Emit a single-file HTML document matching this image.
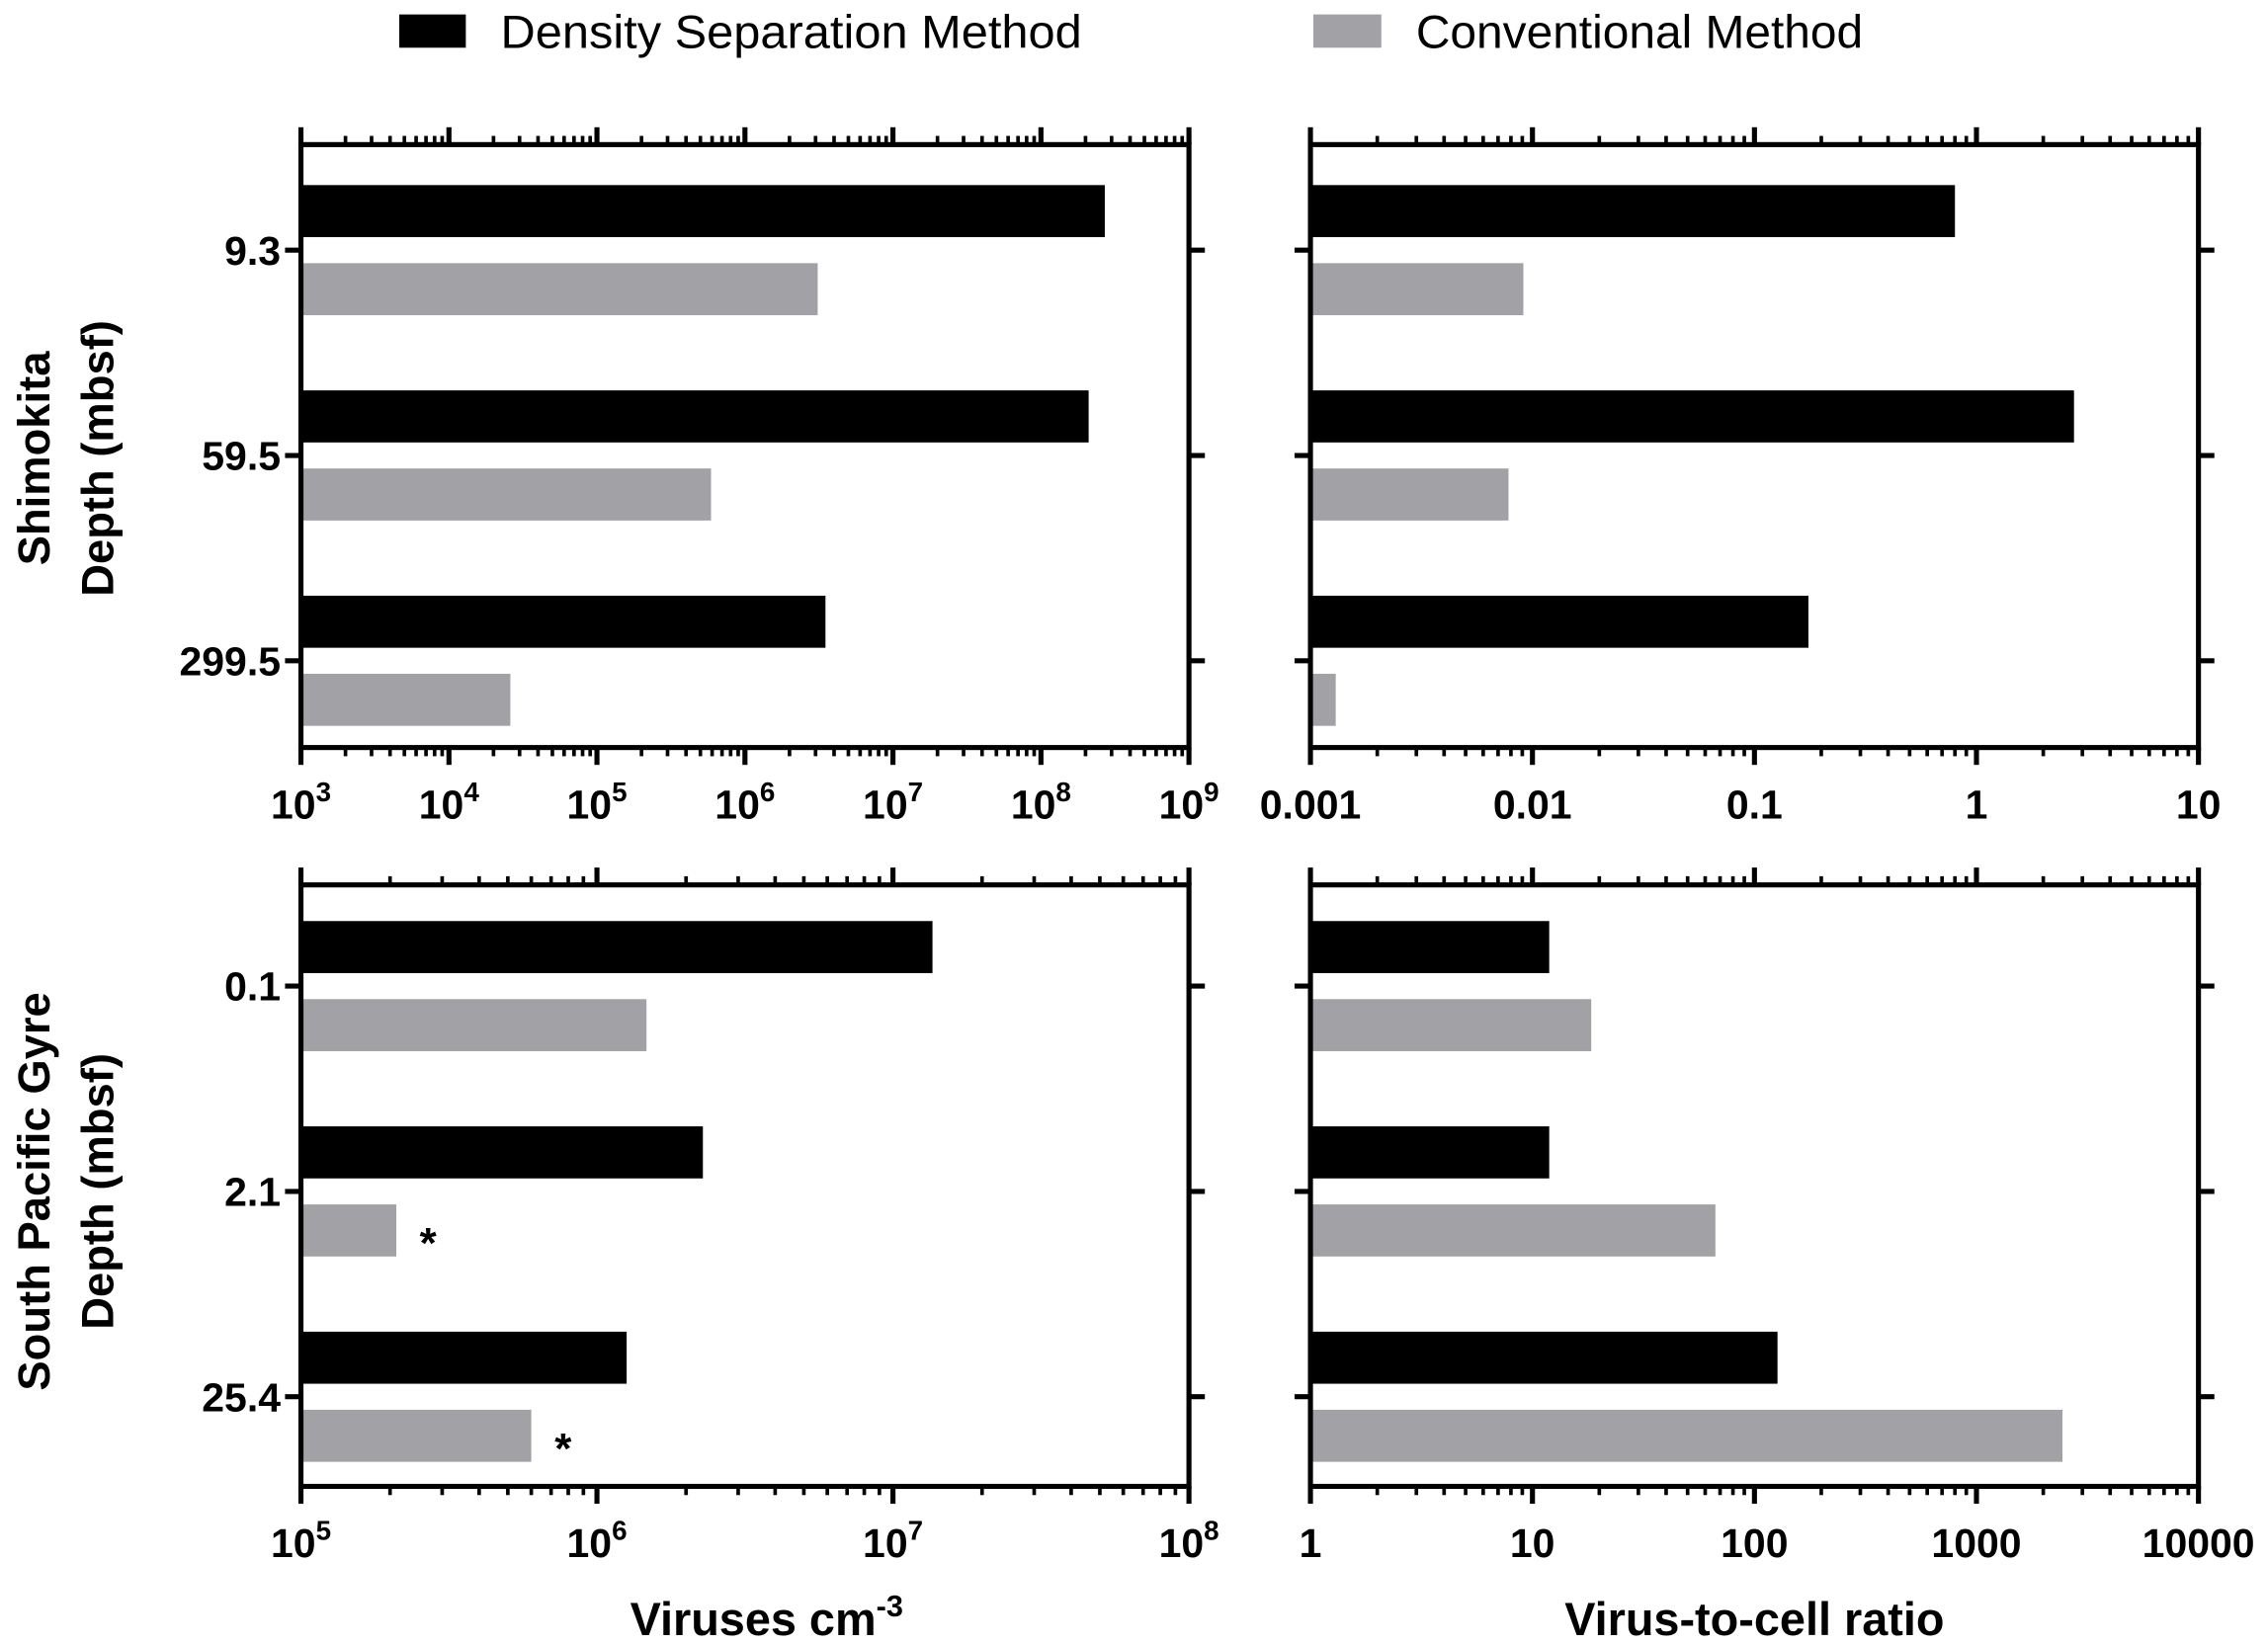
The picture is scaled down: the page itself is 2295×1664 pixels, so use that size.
<!DOCTYPE html>
<html><head><meta charset="utf-8"><style>
html,body{margin:0;padding:0;background:#fff}
svg{display:block}
text{font-family:"Liberation Sans",Arial,sans-serif}
</style></head><body>
<svg id="fig" width="2295" height="1664" viewBox="0 0 1568 1137" xmlns="http://www.w3.org/2000/svg">
<g>
<rect x="276" y="10" width="46" height="23" fill="#000"/>
<text x="346" y="33" font-size="32" textLength="402" lengthAdjust="spacingAndGlyphs">Density Separation Method</text>
<rect x="908" y="10" width="47" height="23" fill="#a2a1a6"/>
<text x="979" y="33" font-size="32" textLength="309" lengthAdjust="spacingAndGlyphs">Conventional Method</text>
</g>
<text transform="translate(34,317) rotate(-90)" text-anchor="middle" font-size="31" font-weight="bold">Shimokita</text>
<text transform="translate(78,317) rotate(-90)" text-anchor="middle" font-size="31" font-weight="bold">Depth (mbsf)</text>
<text transform="translate(34,824) rotate(-90)" text-anchor="middle" font-size="31" font-weight="bold">South Pacific Gyre</text>
<text transform="translate(78,824) rotate(-90)" text-anchor="middle" font-size="31" font-weight="bold">Depth (mbsf)</text>
<text x="530" y="1131" text-anchor="middle" font-size="32" font-weight="bold">Viruses cm<tspan dy="-13" font-size="21">-3</tspan></text>
<text x="1213" y="1131" text-anchor="middle" font-size="32" font-weight="bold">Virus-to-cell ratio</text>
</svg>
<script>
// Top panels: Shimokita
const topCategories = ["9.3", "59.5", "299.5"];
const topVirusDensity = [2.7e8, 2.1e8, 3.5e6];
const topVirusConventional = [3.1e6, 5.9e5, 2.6e4];
const topRatioDensity = [0.80, 2.75, 0.175];
const topRatioConventional = [0.0091, 0.0078, 0.0013];
// Bottom panels: South Pacific Gyre
const botCategories = ["0.1", "2.1", "25.4"];
const botVirusDensity = [1.36e7, 2.28e6, 1.26e6];
const botVirusConventional = [1.47e6, 2.1e5, 6.0e5];
const botRatioDensity = [11.9, 11.9, 127];
const botRatioConventional = [18.4, 66.7, 2440];
const botAsterisks = [false, true, true];
// axis ranges / tick labels
const topVirusDecades = [3, 9];
const topRatioTicks = ["0.001", "0.01", "0.1", "1", "10"];
const botVirusDecades = [5, 8];
const botRatioTicks = ["1", "10", "100", "1000", "10000"];

const NS = "http://www.w3.org/2000/svg";
const svg = document.getElementById("fig");
function mk(tag, attrs, parent) {
  const e = document.createElementNS(NS, tag);
  for (const k in attrs) e.setAttribute(k, attrs[k]);
  (parent || svg).appendChild(e);
  return e;
}

function panel(o) {
  const g = mk("g", {});
  
  
  const lo = o.logMin, hi = o.logMax;
  const xs = v => o.x0 + (Math.log10(v) - lo) / (hi - lo) * (o.x1 - o.x0);
  const catY = i => o.catY0 + i * 142;
  o.cats.forEach((c, i) => {
    const cy = catY(i);
    const b1 = mk("rect", {x: o.x0, y: cy - 45, width: xs(o.dens[i]) - o.x0, height: 36, fill: "#000"}, g);
    
    
    const b2 = mk("rect", {x: o.x0, y: cy + 9, width: xs(o.conv[i]) - o.x0, height: 36, fill: "#a2a1a6"}, g);
    
    
    if (o.ast && o.ast[i]) {
      const a = mk("text", {x: xs(o.conv[i]) + 22, y: cy + 46, "font-size": 30, "font-weight": "bold", "text-anchor": "middle"}, g);
      a.textContent = "*";
      
      
    }
    mk("line", {x1: o.x0 - 11, x2: o.x0, y1: cy, y2: cy, stroke: "#000", "stroke-width": 3.5}, g);
    mk("line", {x1: o.x1, x2: o.x1 + 11, y1: cy, y2: cy, stroke: "#000", "stroke-width": 3.5}, g);
    if (o.showCats) {
      const t = mk("text", {x: o.x0 - 14, y: cy + 10, "font-size": 28, "font-weight": "bold", "text-anchor": "end"}, g);
      t.textContent = c;
      
      
    }
  });
  mk("rect", {x: o.x0, y: o.y0, width: o.x1 - o.x0, height: o.y1 - o.y0, fill: "none", stroke: "#000", "stroke-width": 3.5}, g);
  for (let d = lo; d <= hi; d++) {
    for (let m = 1; m <= 9; m++) {
      if (d === hi && m > 1) break;
      const x = xs(m * Math.pow(10, d));
      const len = m === 1 ? 12 : 6;
      mk("line", {x1: x, x2: x, y1: o.y0, y2: o.y0 - len, stroke: "#000", "stroke-width": m === 1 ? 3.5 : 2.5}, g);
      mk("line", {x1: x, x2: x, y1: o.y1, y2: o.y1 + len, stroke: "#000", "stroke-width": m === 1 ? 3.5 : 2.5}, g);
    }
    const x = xs(Math.pow(10, d));
    const t = mk("text", {x: x, y: o.y1 + 49, "font-size": 28, "font-weight": "bold", "text-anchor": "middle"}, g);
    if (o.labels) t.textContent = o.labels[d - lo];
    else {
      t.textContent = "10";
      const s = mk("tspan", {dy: -12, "font-size": 19}, t);
      s.textContent = String(d);
    }
    
    
  }
}

panel({name: "panel-shimokita-viruses", x0: 208, x1: 822, y0: 100, y1: 517, catY0: 173, logMin: topVirusDecades[0], logMax: topVirusDecades[1], cats: topCategories, dens: topVirusDensity, conv: topVirusConventional, showCats: true});
panel({name: "panel-shimokita-ratio", x0: 906, x1: 1520, y0: 100, y1: 517, catY0: 173, logMin: -3, logMax: 1, cats: topCategories, dens: topRatioDensity, conv: topRatioConventional, labels: topRatioTicks});
panel({name: "panel-spg-viruses", x0: 208, x1: 822, y0: 612, y1: 1028, catY0: 682, logMin: botVirusDecades[0], logMax: botVirusDecades[1], cats: botCategories, dens: botVirusDensity, conv: botVirusConventional, showCats: true, ast: botAsterisks});
panel({name: "panel-spg-ratio", x0: 906, x1: 1520, y0: 612, y1: 1028, catY0: 682, logMin: 0, logMax: 4, cats: botCategories, dens: botRatioDensity, conv: botRatioConventional, labels: botRatioTicks});
</script>
</body></html>
